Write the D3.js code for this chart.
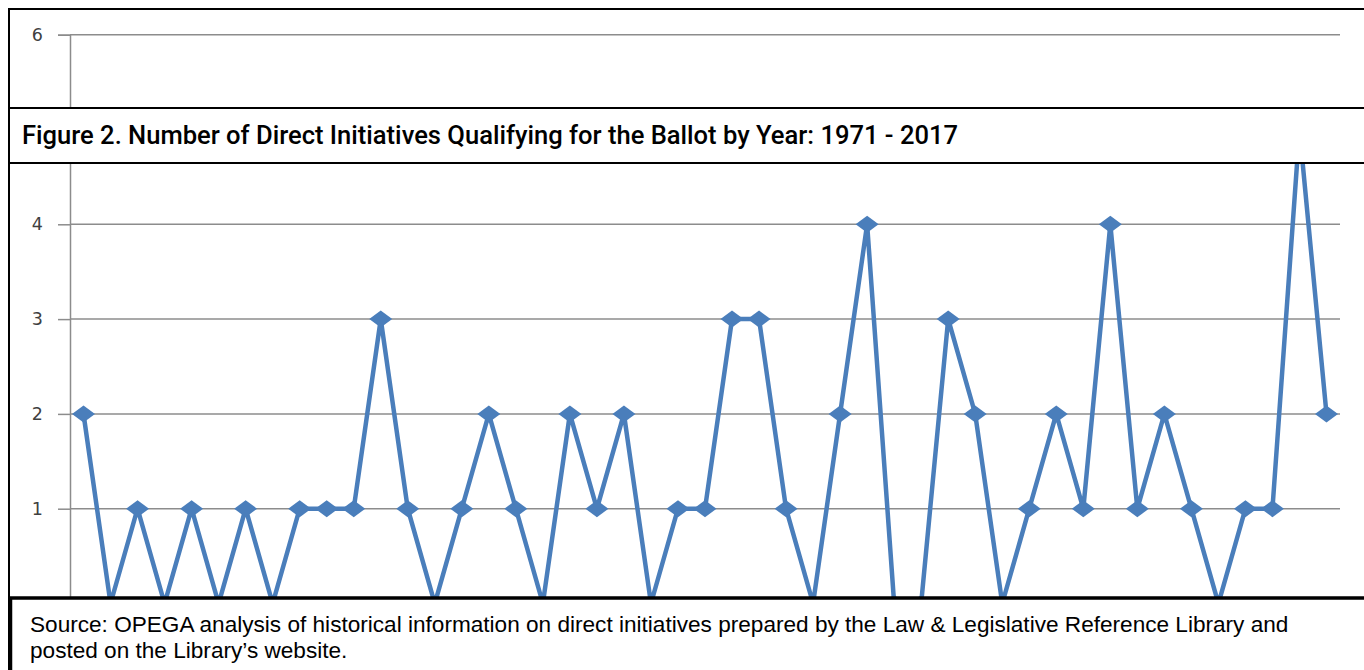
<!DOCTYPE html>
<html>
<head>
<meta charset="utf-8">
<script src="https://cdn.jsdelivr.net/npm/d3@7"></script>
<style>
body { margin: 0; background: #fff; }
</style>
</head>
<body>
<script>
var years = d3.range(1971, 2018);
var counts = [2, 0, 1, 0, 1, 0, 1, 0, 1, 1,
	1, 3, 1, 0, 1, 2, 1, 0, 2, 1,
	2, 0, 1, 1, 3, 3, 1, 0, 2, 4,
	0, 0, 3, 2, 0, 1, 2, 1, 4, 1,
	2, 1, 0, 1, 1, 5, 2];
var yTicks = [0, 1, 2, 3, 4, 5, 6];
var yLabels = [1, 2, 3, 4, 6]; // 0 and 5 sit behind the boxes
var title = "Figure 2. Number of Direct Initiatives Qualifying for the Ballot by Year: 1971 - 2017";
var source = ["Source: OPEGA analysis of historical information on direct initiatives prepared by the Law & Legislative Reference Library and",
	"posted on the Library\u2019s website."];

var W = 1364, H = 670;
var svg = d3.select("body")
	.append("svg")
	.attr("width", W)
	.attr("height", H);

var x = d3.scalePoint()
	.domain(years)
	.range([70, 1340])
	.padding(0.5);
var y = d3.scaleLinear()
	.domain([0, 6])
	.range([603.5, 34.7]);

// gridlines
svg.append("g")
	.selectAll("line")
	.data(yTicks.filter(function(d) { return d > 0; }))
	.join("line")
	.attr("x1", 70).attr("x2", 1340)
	.attr("y1", function(d) { return y(d); })
	.attr("y2", function(d) { return y(d); })
	.attr("stroke", "#8c8c8c")
	.attr("stroke-width", 1.5);

// y axis
var yAxis = svg.append("g")
	.attr("transform", "translate(70,0)")
	.call(d3.axisLeft(y).tickValues(yTicks).tickSize(12).tickPadding(15)
		.tickFormat(function(d) { return yLabels.indexOf(d) >= 0 ? d3.format("d")(d) : ""; }));
yAxis.select(".domain").attr("stroke", "#8c8c8c").attr("stroke-width", 1.5);
yAxis.selectAll(".tick line").attr("stroke", "#8c8c8c").attr("stroke-width", 1.5);
yAxis.selectAll(".tick text")
	.attr("font-family", "DejaVu Sans, Verdana, sans-serif")
	.attr("font-size", "17.5px")
	.attr("fill", "#404040");

// series
var line = d3.line()
	.x(function(d, i) { return x(years[i]); })
	.y(function(d) { return y(d); });
svg.append("path")
	.datum(counts)
	.attr("d", line)
	.attr("fill", "none")
	.attr("stroke", "#4a7ebb")
	.attr("stroke-width", 4.5)
	.attr("stroke-linejoin", "miter");

svg.append("g")
	.selectAll("path")
	.data(counts)
	.join("path")
	.attr("d", "M0,-8.5 L11.5,0 L0,8.5 L-11.5,0 Z")
	.attr("transform", function(d, i) { return "translate(" + x(years[i]) + "," + y(d) + ")"; })
	.attr("fill", "#4a7ebb");

// outer frame lines
svg.append("line").attr("x1", 9).attr("x2", W).attr("y1", 9).attr("y2", 9)
	.attr("stroke", "#000").attr("stroke-width", 2);
svg.append("line").attr("x1", 9).attr("x2", 9).attr("y1", 8).attr("y2", H)
	.attr("stroke", "#000").attr("stroke-width", 2);

// title box
svg.append("rect")
	.attr("x", 9).attr("y", 108)
	.attr("width", W).attr("height", 55)
	.attr("fill", "#fff")
	.attr("stroke", "#000")
	.attr("stroke-width", 2);
svg.append("text")
	.attr("x", 22).attr("y", 144)
	.attr("font-family", "Roboto, sans-serif")
	.attr("font-weight", 500)
	.attr("font-size", "25px")
	.attr("textLength", 936)
	.attr("lengthAdjust", "spacingAndGlyphs")
	.attr("fill", "#000")
	.text(title);

// source box
svg.append("rect")
	.attr("x", 10.5).attr("y", 598)
	.attr("width", W).attr("height", 80)
	.attr("fill", "#fff")
	.attr("stroke", "#000")
	.attr("stroke-width", 3.5);
svg.append("g")
	.selectAll("text")
	.data(source)
	.join("text")
	.attr("x", 30)
	.attr("y", function(d, i) { return 632 + i * 26; })
	.attr("font-family", "Liberation Sans, Arial, sans-serif")
	.attr("font-size", "22.6px")
	.attr("fill", "#000")
	.text(function(d) { return d; });
</script>
</body>
</html>
